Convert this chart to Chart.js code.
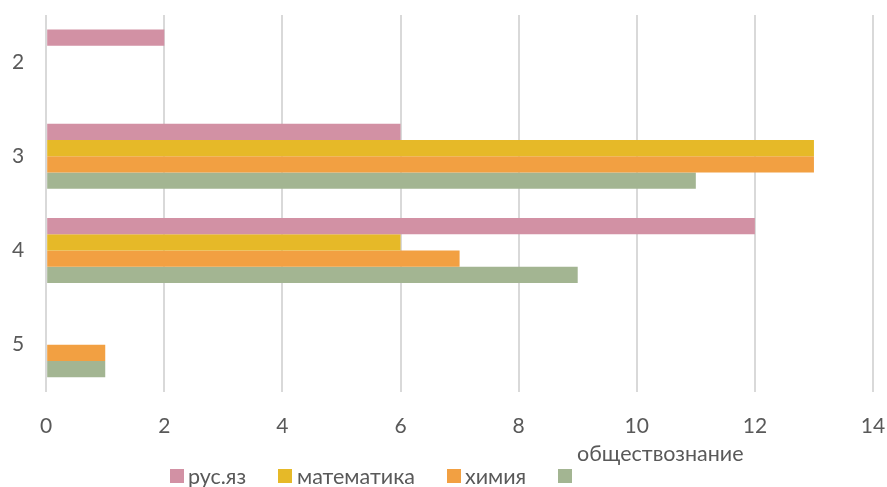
<!DOCTYPE html>
<html>
<head>
<meta charset="utf-8">
<script src="https://cdn.jsdelivr.net/npm/chart.js@4/dist/chart.umd.min.js"></script>
<style>
html,body{margin:0;padding:0;background:#fff;}
#wrap{position:relative;width:887px;height:487px;}
#c{position:absolute;left:0;top:0;}
.lg{position:absolute;font-family:Lato,sans-serif;font-size:21.5px;color:#595959;line-height:22px;white-space:nowrap;}
.sq{position:absolute;width:14px;height:14px;}
</style>
</head>
<body>
<div id="wrap">
<canvas id="c" width="887" height="487"></canvas>
<div class="sq" style="left:170px;top:469px;background:#D291A4"></div>
<div class="lg" style="left:188px;top:465px">рус.яз</div>
<div class="sq" style="left:278px;top:469px;background:#E6B928"></div>
<div class="lg" style="left:297px;top:465px">математика</div>
<div class="sq" style="left:447px;top:469px;background:#F2A042"></div>
<div class="lg" style="left:465px;top:465px">химия</div>
<div class="sq" style="left:558px;top:469px;background:#A3B592"></div>
<div class="lg" style="left:577px;top:442px">обществознание</div>
</div>
<script>
const categories = ['2', '3', '4', '5'];
const seriesNames = ['рус.яз', 'математика', 'химия', 'обществознание'];
const rusYaz = [2, 6, 12, 0];
const matematika = [0, 13, 6, 0];
const khimiya = [0, 13, 7, 1];
const obshchestvo = [0, 11, 9, 1];
const xTicks = [0, 2, 4, 6, 8, 10, 12, 14];
const colors = ['#D291A4', '#E6B928', '#F2A042', '#A3B592'];

const values = [rusYaz, matematika, khimiya, obshchestvo];
const font = {family: 'Lato', size: 21};

new Chart(document.getElementById('c'), {
  type: 'bar',
  data: {
    labels: categories,
    datasets: values.map((v, i) => ({
      label: seriesNames[i],
      data: v,
      backgroundColor: colors[i],
      borderWidth: 0,
      categoryPercentage: 0.69,
      barPercentage: 1.0
    }))
  },
  options: {
    indexAxis: 'y',
    responsive: false,
    animation: false,
    layout: {padding: {top: 15, right: 14, bottom: 48, left: 12}},
    plugins: {legend: {display: false}, tooltip: {enabled: false}},
    scales: {
      x: {
        min: 0, max: 14,
        afterBuildTicks: (axis) => { axis.ticks = xTicks.map(v => ({value: v})); },
        ticks: {font: font, color: '#595959', padding: 0},
        grid: {color: '#D9D9D9', lineWidth: 2, drawTicks: true, tickLength: 22, tickColor: 'rgba(0,0,0,0)'},
        border: {display: false}
      },
      y: {
        ticks: {font: font, color: '#595959', padding: 0},
        grid: {display: true, color: 'rgba(0,0,0,0)', drawTicks: true, tickLength: 22, tickColor: 'rgba(0,0,0,0)'},
        border: {display: false}
      }
    }
  }
});
</script>
</body>
</html>
